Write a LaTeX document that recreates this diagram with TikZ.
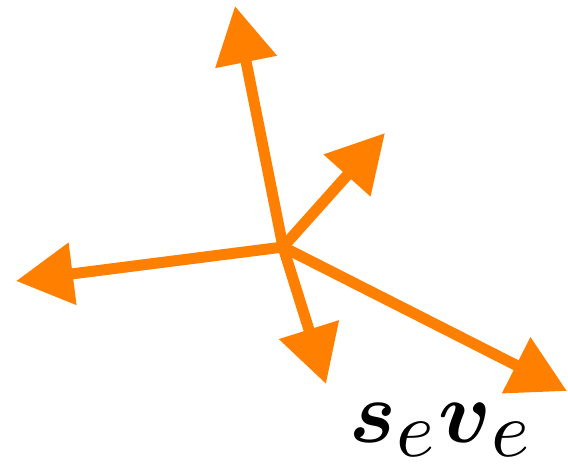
\documentclass[tikz,border=0pt]{standalone}
\usepackage{amsmath}
\usetikzlibrary{arrows.meta}
\definecolor{vecorange}{RGB}{255,127,0}
\DeclareMathSizes{10}{10}{9}{7}

\begin{document}
\begin{tikzpicture}[x=0.01cm, y=-0.01cm,
    vec/.style={-{Triangle[length=5.7mm, width=6mm]}, line width=1.1mm, draw=vecorange, fill=vecorange},
    lbl/.style={font=\fontsize{10}{12}\selectfont, scale=2.5, inner sep=0pt}
]
    \useasboundingbox (0,0) rectangle (568,469);

    \coordinate (origin) at (283,247);
    \coordinate (up) at (235,6);
    \coordinate (upright) at (385,133);
    \coordinate (left) at (16,281);
    \coordinate (down) at (326,384);
    \coordinate (downright) at (567,391);

    \draw[vec] (origin) -- (up);
    \draw[vec] (origin) -- (upright);
    \draw[vec] (origin) -- (left);
    \draw[vec] (origin) -- (down);
    \draw[vec] (origin) -- (downright);

    \node[lbl] (seve) at (442,430) {$\boldsymbol{s}_e \boldsymbol{v}_e$};
\end{tikzpicture}
\end{document}
